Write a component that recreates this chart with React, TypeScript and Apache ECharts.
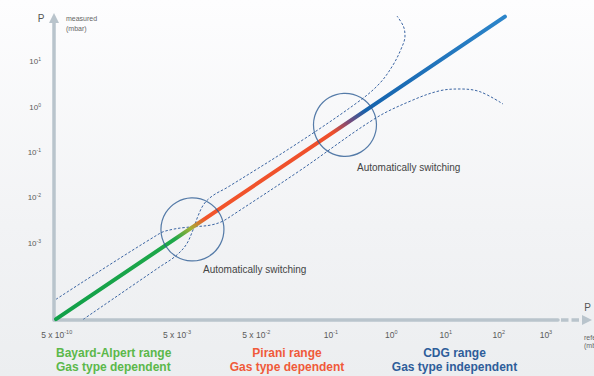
import { useEffect, useRef } from 'react';
import * as echarts from 'echarts';

// Y axis: log10 of measured pressure (mbar)
const yTickExponents = [-3, -2, -1, 0, 1];
// X axis: schematic (broken) reference-pressure scale, tick positions in decade-like units
const xTickValues = [-4.67, -2.88, -1.7, -0.59, 0.31, 1.12, 1.91, 2.61];
const xTickMantissa = ['5 x 10', '5 x 10', '5 x 10', '10', '10', '10', '10', '10'];
const xTickExponents = ['-10', '-3', '-2', '-1', '0', '1', '2', '3'];

// ideal measured = reference line
const idealLine = [
  [-4.68, -4.68],
  [2.0, 2.0],
];
// gauge switching points
const switchPoints = [
  [-2.65, -2.7],
  [-0.38, -0.39],
];
// tolerance envelopes (dashed)
const envelopeA = [
  [-4.68, -4.243],
  [-3.133, -2.785],
  [-2.954, -2.701],
  [-2.761, -2.657],
  [-2.567, -2.635],
  [-2.374, -2.602],
  [-2.21, -2.525],
  [-2.017, -2.348],
  [-1.049, -1.398],
  [0.067, -0.25],
  [0.632, 0.159],
  [1.034, 0.364],
  [1.332, 0.402],
  [1.629, 0.342],
  [1.972, 0.07],
];
const envelopeB = [
  [-4.274, -4.685],
  [-3.133, -3.523],
  [-2.909, -3.298],
  [-2.746, -3.044],
  [-2.642, -2.712],
  [-2.567, -2.403],
  [-2.478, -2.138],
  [-2.344, -1.95],
  [-2.121, -1.763],
  [-1.049, -0.762],
  [-0.156, 0.148],
  [0.141, 0.534],
  [0.335, 0.932],
  [0.461, 1.307],
  [0.513, 1.572],
  [0.491, 1.782],
  [0.394, 2.014],
];

const FONT = '"Liberation Sans", Arial, Helvetica, sans-serif';
const AXIS_COLOR = '#b9c4cc';
const LABEL_COLOR = '#5a5a5a';
const DASH_COLOR = '#3a64a2';

export default function App() {
  const ref = useRef<HTMLDivElement>(null);
  useEffect(() => {
    if (!ref.current) return;
    const chart = echarts.init(ref.current, undefined, { renderer: 'svg' });
    const dashStyle = { type: [2.5, 1.8] as any, width: 1, color: DASH_COLOR };
    chart.setOption({
      animation: false,
      backgroundColor: new echarts.graphic.LinearGradient(0, 0, 0, 1, [
        { offset: 0, color: '#fdfdfe' },
        { offset: 0.6, color: '#f2f3f5' },
        { offset: 1, color: '#eceef0' },
      ]),
      grid: { left: 54, right: 36, top: 18, bottom: 56 },
      xAxis: {
        type: 'value',
        min: -4.71,
        max: 2.79,
        splitLine: { show: false },
        axisTick: { show: false },
        axisLine: { show: true, onZero: false, lineStyle: { color: AXIS_COLOR, width: 3.5 } },
        axisLabel: {
          customValues: xTickValues,
          margin: 9,
          formatter: (v: number) => {
            let best = 0;
            xTickValues.forEach((t, i) => {
              if (Math.abs(t - v) < Math.abs(xTickValues[best] - v)) best = i;
            });
            return '{b|' + xTickMantissa[best] + '}{s|' + xTickExponents[best] + '}';
          },
          rich: {
            b: { fontSize: 8.5, color: LABEL_COLOR, fontFamily: FONT, lineHeight: 11 },
            s: { fontSize: 5.5, color: LABEL_COLOR, fontFamily: FONT, verticalAlign: 'top', lineHeight: 8 },
          },
        },
      },
      yAxis: {
        type: 'value',
        min: -4.7,
        max: 1.97,
        splitLine: { show: false },
        axisTick: { show: false },
        axisLine: {
          show: true,
          onZero: false,
          symbol: ['none', 'triangle'],
          symbolSize: [10, 10],
          lineStyle: { color: AXIS_COLOR, width: 3.5 },
        },
        axisLabel: {
          customValues: yTickExponents,
          margin: 13,
          formatter: (v: number) => '{b|10}{s|' + Math.round(v) + '}',
          rich: {
            b: { fontSize: 8, color: LABEL_COLOR, fontFamily: FONT, lineHeight: 10 },
            s: { fontSize: 5, color: LABEL_COLOR, fontFamily: FONT, verticalAlign: 'top', lineHeight: 7 },
          },
        },
      },
      series: [
        {
          type: 'line',
          data: envelopeA,
          smooth: 0.35,
          showSymbol: false,
          clip: false,
          lineStyle: dashStyle,
          z: 2,
        },
        {
          type: 'line',
          data: envelopeB,
          smooth: 0.35,
          showSymbol: false,
          clip: false,
          lineStyle: dashStyle,
          z: 2,
        },
        {
          type: 'line',
          data: idealLine,
          showSymbol: false,
          clip: false,
          z: 3,
          lineStyle: {
            width: 4,
            cap: 'round',
            color: new echarts.graphic.LinearGradient(0, 1, 1, 0, [
              { offset: 0, color: '#10a049' },
              { offset: 0.265, color: '#1fa84a' },
              { offset: 0.3, color: '#a3b036' },
              { offset: 0.332, color: '#f2552b' },
              { offset: 0.617, color: '#ee4f2c' },
              { offset: 0.652, color: '#7b4a78' },
              { offset: 0.69, color: '#1563ad' },
              { offset: 1, color: '#2c85ca' },
            ]),
          },
        },
        {
          type: 'scatter',
          data: switchPoints,
          symbol: 'circle',
          symbolSize: 63,
          clip: false,
          z: 4,
          itemStyle: { color: 'rgba(0,0,0,0)', borderColor: '#2c5b93', borderWidth: 1.2 },
        },
      ],
      graphic: [
        // dashed continuation and arrow of x axis
        {
          type: 'line',
          shape: { x1: 561, y1: 320, x2: 581, y2: 320 },
          style: { stroke: AXIS_COLOR, lineWidth: 3.5, lineDash: [7.5, 3] },
        },
        {
          type: 'polygon',
          shape: { points: [[582, 315], [592, 320], [582, 325]] },
          style: { fill: AXIS_COLOR },
        },
        { type: 'text', x: 41, y: 18.5, style: { text: 'P', fill: '#555', fontSize: 10, fontFamily: FONT, align: 'center', verticalAlign: 'middle' } },
        { type: 'text', x: 66, y: 18.7, style: { text: 'measured', fill: '#666', fontSize: 7, fontFamily: FONT, align: 'left', verticalAlign: 'middle' } },
        { type: 'text', x: 66, y: 28.3, style: { text: '(mbar)', fill: '#666', fontSize: 7, fontFamily: FONT, align: 'left', verticalAlign: 'middle' } },
        { type: 'text', x: 587.5, y: 307, style: { text: 'P', fill: '#555', fontSize: 10, fontFamily: FONT, align: 'center', verticalAlign: 'middle' } },
        { type: 'text', x: 584, y: 337, style: { text: 'reference', fill: '#666', fontSize: 7, fontFamily: FONT, align: 'left', verticalAlign: 'middle' } },
        { type: 'text', x: 584, y: 345, style: { text: '(mbar)', fill: '#666', fontSize: 7, fontFamily: FONT, align: 'left', verticalAlign: 'middle' } },
        { type: 'text', x: 203, y: 269.5, style: { text: 'Automatically switching', fill: '#444', fontSize: 10, fontFamily: FONT, align: 'left', verticalAlign: 'middle' } },
        { type: 'text', x: 357, y: 167, style: { text: 'Automatically switching', fill: '#444', fontSize: 10, fontFamily: FONT, align: 'left', verticalAlign: 'middle' } },
        {
          type: 'text', x: 56, y: 360,
          style: { text: 'Bayard-Alpert range\nGas type dependent', fill: '#5bb84a', fontSize: 12, fontWeight: 'bold', lineHeight: 14, fontFamily: FONT, align: 'left', verticalAlign: 'middle' },
        },
        {
          type: 'text', x: 287, y: 360,
          style: { text: 'Pirani range\nGas type dependent', fill: '#f05a3a', fontSize: 12, fontWeight: 'bold', lineHeight: 14, fontFamily: FONT, align: 'center', verticalAlign: 'middle' },
        },
        {
          type: 'text', x: 454.5, y: 360,
          style: { text: 'CDG range\nGas type independent', fill: '#2e5d9a', fontSize: 12, fontWeight: 'bold', lineHeight: 14, fontFamily: FONT, align: 'center', verticalAlign: 'middle' },
        },
      ],
    });
    return () => chart.dispose();
  }, []);
  return (
    <div
      ref={ref}
      style={{ position: 'absolute', left: 0, top: 0, width: 594, height: 376 }}
    />
  );
}
